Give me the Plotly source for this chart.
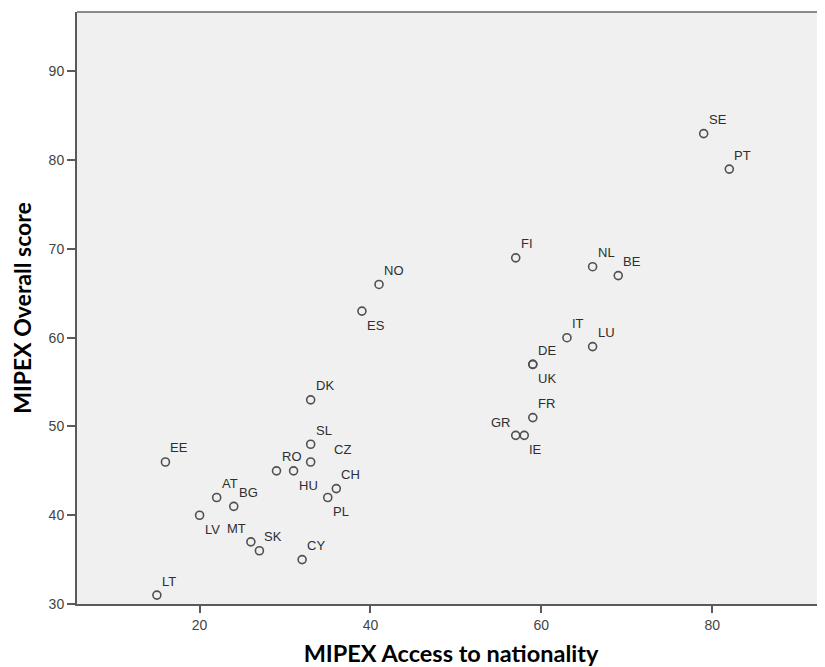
import plotly.graph_objects as go

# ---- data ----
countries = ["LT", "EE", "LV", "AT", "BG", "MT", "SK", "RO", "HU", "CY",
             "SL", "CZ", "DK", "PL", "CH", "ES", "NO", "FI", "GR", "IE",
             "FR", "DE", "UK", "IT", "LU", "NL", "BE", "SE", "PT"]
access_nationality = [15, 16, 20, 22, 24, 26, 27, 29, 31, 32,
                      33, 33, 33, 35, 36, 39, 41, 57, 57, 58,
                      59, 59, 59, 63, 66, 66, 69, 79, 82]
overall_score = [31, 46, 40, 42, 41, 37, 36, 45, 45, 35,
                 48, 46, 53, 42, 43, 63, 66, 69, 49, 49,
                 51, 57, 57, 60, 59, 68, 67, 83, 79]

# label placement code per country (style only)
label_place = ["tr", "tr", "br", "tr", "tr", "tl", "tr", "tr", "br", "tr",
               "tr", "trfar", "tr", "br", "tr", "br", "tr", "tr", "tl", "br",
               "tr", "tr", "br", "tr", "tr", "tr", "tr", "tr", "tr"]

x_ticks = [20, 40, 60, 80]
y_ticks = [30, 40, 50, 60, 70, 80, 90]

x_title = "MIPEX Access to nationality"
y_title = "MIPEX Overall score"

# ---- style ----
place_style = {
    "tr": dict(xanchor="left", xshift=4, yshift=14),
    "trfar": dict(xanchor="left", xshift=22, yshift=12),
    "br": dict(xanchor="left", xshift=4, yshift=-14.5),
    "tl": dict(xanchor="right", xshift=-4, yshift=13),
}

fig = go.Figure()
fig.add_trace(go.Scatter(
    x=access_nationality, y=overall_score, mode="markers",
    marker=dict(symbol="circle-open", size=8, color="#505050",
                line=dict(width=1.6, color="#505050")),
    text=countries, hoverinfo="text+x+y", showlegend=False,
))

annotations = []
for c, xv, yv, p in zip(countries, access_nationality, overall_score, label_place):
    st = place_style[p]
    annotations.append(dict(
        x=xv, y=yv, xref="x", yref="y", text=c, showarrow=False,
        yanchor="middle", font=dict(family="Arial, Liberation Sans", size=13, color="#2e2e2e"),
        borderpad=0, **st))

fig.update_layout(
    width=817, height=659,
    margin=dict(l=69, r=0, t=4, b=63, pad=0),
    paper_bgcolor="white", plot_bgcolor="#f0f0f0",
    annotations=annotations,
    shapes=[dict(type="line", xref="paper", yref="paper", x0=0, x1=1, y0=1, y1=1,
                 line=dict(color="#8a8a8a", width=2))],
    font=dict(family="Arial, Liberation Sans", color="#444444"),
)
fig.update_xaxes(
    range=[5.65, 93.2], tickvals=x_ticks, ticktext=[str(v) for v in x_ticks],
    showgrid=False, zeroline=False, showline=True, linecolor="#5a5a5a", linewidth=2,
    ticks="outside", ticklen=7, tickwidth=2, tickcolor="#5a5a5a",
    tickfont=dict(size=14, color="#444444"),
    title=dict(text=x_title, standoff=18,
               font=dict(family="Lato", size=23.5, color="black", weight="bold")),
)
fig.update_yaxes(
    range=[30, 96.7], tickvals=y_ticks, ticktext=[str(v) for v in y_ticks],
    showgrid=False, zeroline=False, showline=True, linecolor="#5a5a5a", linewidth=2,
    ticks="outside", ticklen=8, tickwidth=2, tickcolor="#5a5a5a",
    tickfont=dict(size=14, color="#444444"),
    title=dict(text=y_title, standoff=13,
               font=dict(family="Lato", size=23, color="black", weight="bold")),
)

fig.write_html("out.html")
